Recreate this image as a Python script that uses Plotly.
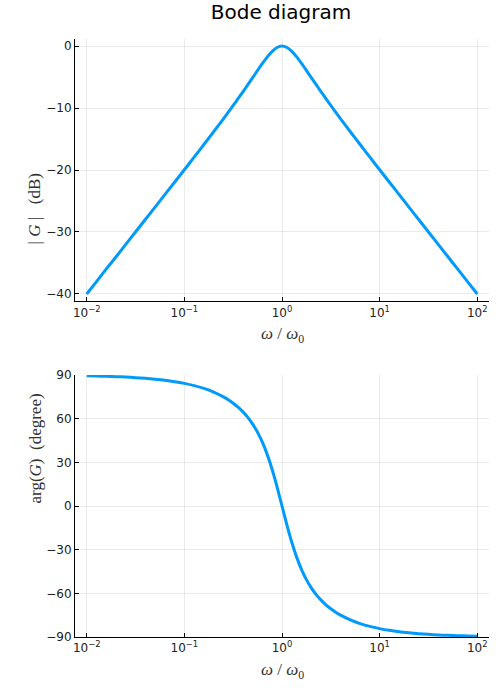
import plotly.graph_objects as go

omega = [0.01, 0.0126, 0.0158, 0.02, 0.0251, 0.0316, 0.0398, 0.0501, 0.0631, 0.0794,
         0.1, 0.1259, 0.1585, 0.1995, 0.2512, 0.2818, 0.3162, 0.3548, 0.3981, 0.4467,
         0.5012, 0.5623, 0.631, 0.7079, 0.7943, 0.8913, 1.0,
         1.122, 1.259, 1.413, 1.585, 1.778, 1.995, 2.239, 2.512, 2.818, 3.162, 3.548,
         3.981, 5.012, 6.31, 7.943, 10.0, 12.59, 15.85, 19.95, 25.12, 31.62, 39.81,
         50.12, 63.1, 79.43, 100.0]

gain_db = [-40.00, -38.00, -36.00, -34.00, -32.00, -30.00, -27.99, -25.99, -23.98, -21.97,
           -19.96, -17.93, -15.89, -13.83, -11.74, -10.67, -9.59, -8.49, -7.38, -6.24,
           -5.09, -3.94, -2.81, -1.75, -0.85, -0.23, 0.0,
           -0.23, -0.85, -1.75, -2.81, -3.94, -5.09, -6.24, -7.38, -8.49, -9.59, -10.67,
           -11.74, -13.83, -15.89, -17.93, -19.96, -21.97, -23.98, -25.99, -27.99, -30.00,
           -32.00, -34.00, -36.00, -38.00, -40.00]

phase_deg = [89.43, 89.28, 89.09, 88.86, 88.56, 88.19, 87.72, 87.12, 86.38, 85.43,
             84.23, 82.71, 80.77, 78.26, 74.99, 72.97, 70.63, 67.91, 64.68, 60.86,
             56.21, 50.58, 43.65, 35.13, 24.92, 12.99, 0.0,
             -12.99, -24.92, -35.13, -43.65, -50.58, -56.21, -60.86, -64.68, -67.91, -70.63,
             -72.97, -74.99, -78.26, -80.77, -82.71, -84.23, -85.43, -86.38, -87.12, -87.72,
             -88.19, -88.56, -88.86, -89.09, -89.28, -89.43]

x_tickvals = [0.01, 0.1, 1, 10, 100]
x_ticktext = ["10<sup>−2</sup>", "10<sup>−1</sup>", "10<sup>0</sup>",
              "10<sup>1</sup>", "10<sup>2</sup>"]
gain_ticks = [0, -10, -20, -30, -40]
phase_ticks = [90, 60, 30, 0, -30, -60, -90]

BLUE = "#009AFA"
TICKFONT = dict(family="DejaVu Sans", size=12, color="#222222")
LABELFONT = dict(family="Liberation Serif", size=17, color="#333333")

W, H = 500, 700


def px(x):
    return x / W


def py(y):
    return 1 - y / H


def fmt(v):
    return str(v).replace("-", "−")


fig = go.Figure()

fig.add_trace(go.Scatter(x=omega, y=gain_db, mode="lines",
                         line=dict(color=BLUE, width=3, shape="spline", smoothing=0.6),
                         xaxis="x", yaxis="y", showlegend=False))
fig.add_trace(go.Scatter(x=omega, y=phase_deg, mode="lines",
                         line=dict(color=BLUE, width=3, shape="spline", smoothing=0.6),
                         xaxis="x2", yaxis="y2", showlegend=False))

axis_common = dict(
    showline=True, linecolor="black", linewidth=1, mirror=False,
    ticks="inside", ticklen=4, tickcolor="black", tickwidth=1,
    showgrid=True, gridcolor="rgba(0,0,0,0.08)", gridwidth=0.6,
    zeroline=False, tickfont=TICKFONT, automargin=False,
)

xdom = [px(75), px(489)]
fig.update_layout(
    width=W, height=H,
    paper_bgcolor="white", plot_bgcolor="white",
    margin=dict(l=0, r=0, t=0, b=0),
    title=dict(text="Bode diagram", x=px(281), xanchor="center", y=py(12), yanchor="middle",
               font=dict(family="DejaVu Sans", size=20, color="black")),
    xaxis=dict(type="log", range=[-2.12, 2.12], domain=xdom, anchor="y",
               tickvals=x_tickvals, ticktext=x_ticktext, **axis_common),
    yaxis=dict(range=[-41.2, 1.2], domain=[py(301.4), py(38.6)], anchor="x",
               tickvals=gain_ticks, ticktext=[fmt(v) for v in gain_ticks], **axis_common),
    xaxis2=dict(type="log", range=[-2.12, 2.12], domain=xdom, anchor="y2",
                tickvals=x_tickvals, ticktext=x_ticktext, **axis_common),
    yaxis2=dict(range=[-90, 90], domain=[py(637), py(375)], anchor="x2",
                tickvals=phase_ticks, ticktext=[fmt(v) for v in phase_ticks], **axis_common),
)

# Achsenbeschriftungen als Annotationen (kein MathJax offline)
xlabel = "<i>ω</i> / <i>ω</i><sub>0</sub>"
fig.add_annotation(text=xlabel, xref="paper", yref="paper", x=px(282), y=py(335),
                   showarrow=False, font=LABELFONT, yanchor="middle")
fig.add_annotation(text=xlabel, xref="paper", yref="paper", x=px(282), y=py(671),
                   showarrow=False, font=LABELFONT, yanchor="middle")
fig.add_annotation(text="| <i>G</i> |\u00a0\u00a0\u00a0(dB)", xref="paper", yref="paper",
                   x=px(23), y=py(171), showarrow=False, textangle=-90, font=LABELFONT)
fig.add_annotation(text="arg(<i>G</i>)\u00a0\u00a0(degree)", xref="paper", yref="paper",
                   x=px(23), y=py(506), showarrow=False, textangle=-90, font=LABELFONT)

# Body-Rand entfernen, damit die Figur bei (0,0) sitzt
fig.write_html("out.html", config={"displayModeBar": False},
               post_script="document.body.style.margin='0';")
